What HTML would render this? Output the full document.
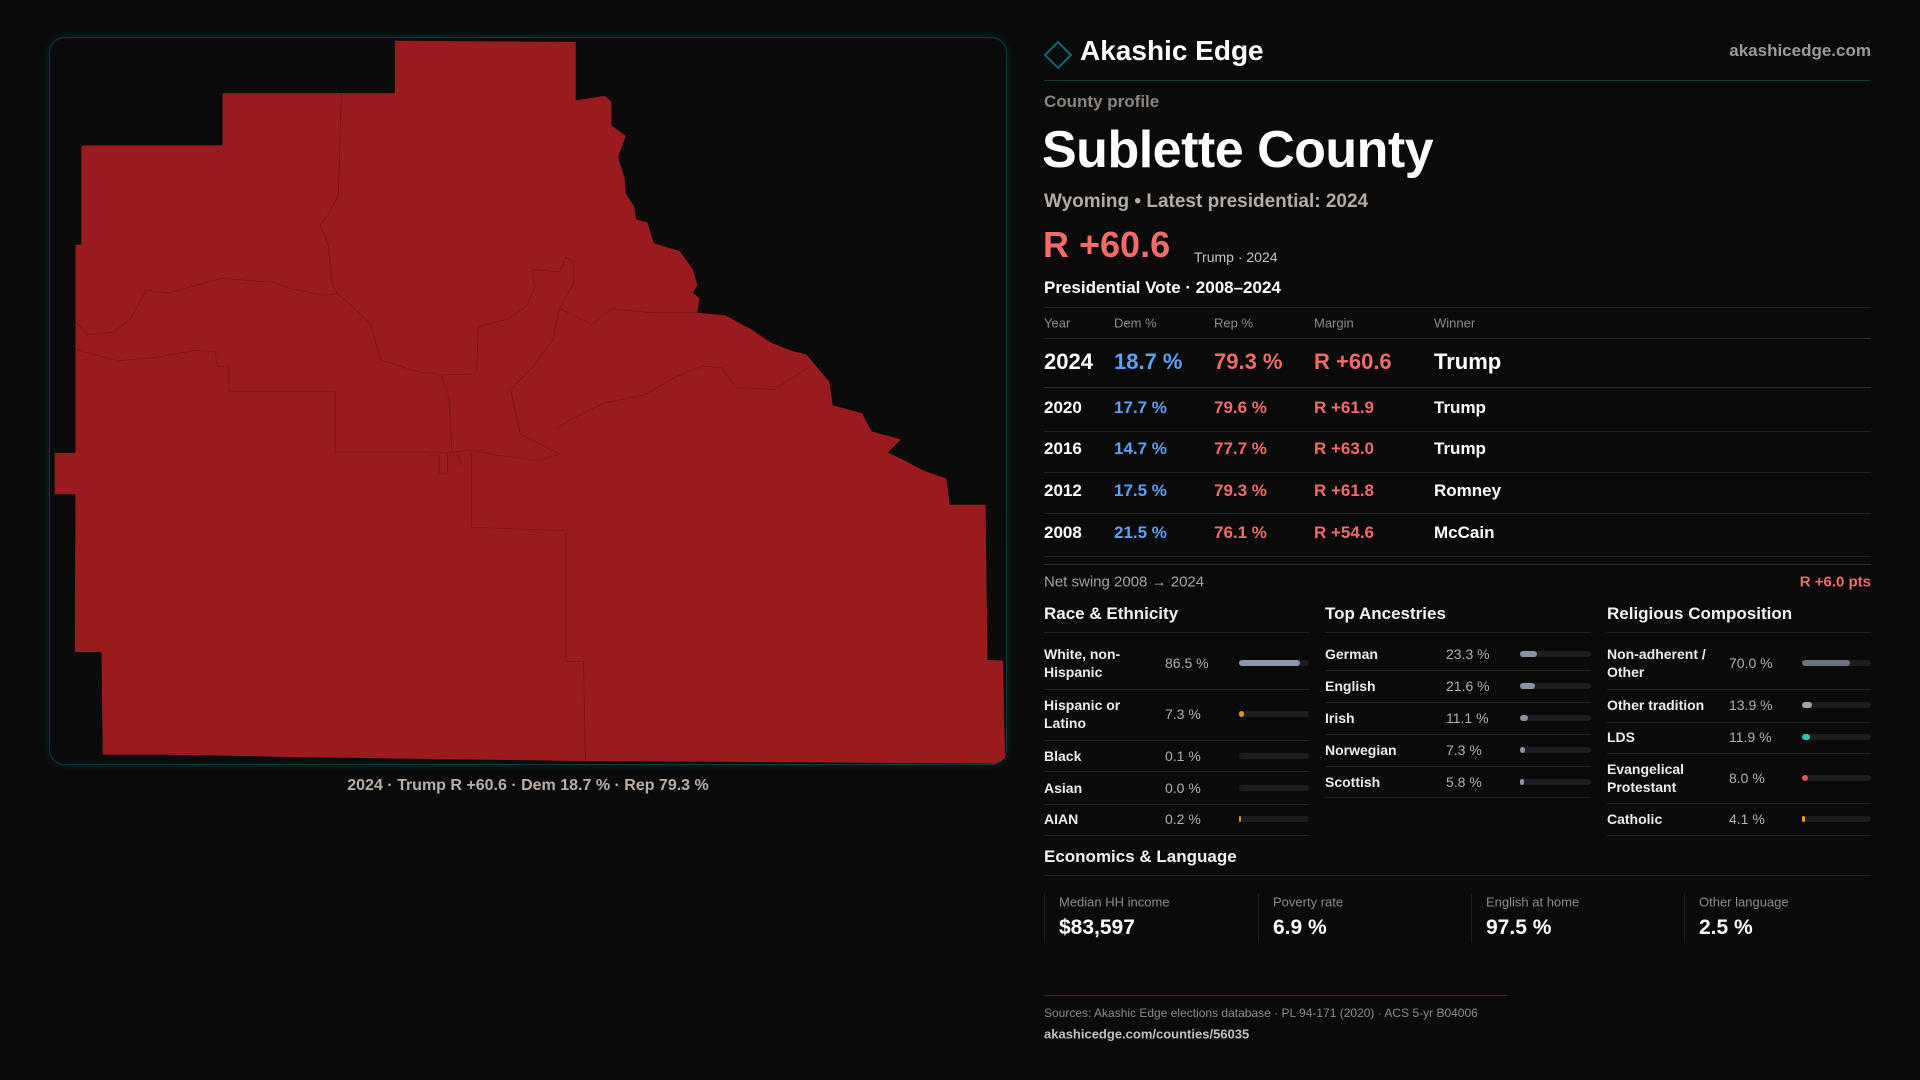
<!DOCTYPE html>
<html><head><meta charset="utf-8"><style>
*{margin:0;padding:0;box-sizing:border-box}
body{width:1920px;height:1080px;background:#0a0a0b;font-family:"Liberation Sans",sans-serif;color:#f2f2f2;position:relative;overflow:hidden}
.a{position:absolute;white-space:nowrap}
.vc{transform:translateY(-50%)}
.hl{position:absolute;height:1px;background:#222226}
.lbl{font-size:14px;font-weight:600;color:#ececec;line-height:18px}
.val{font-size:14px;color:#b5b0aa}
.track{position:absolute;height:6px;border-radius:3px;background:#1d1d20}
.fill{position:absolute;left:0;top:0;height:6px;border-radius:3px}
</style></head><body>

<div class="a" style="left:49px;top:37px;width:958px;height:728px;border:1px solid #0f3c44;border-radius:16px;background:#0b0b0c;box-shadow:0 0 10px rgba(20,110,120,0.25)"></div>
<svg class="a" style="left:0;top:0" width="1020" height="800" viewBox="0 0 1020 800">
<g transform="scale(0.6505,0.523)">
<path fill="#9a1b1e" d="M607,78 L885,80 L885,192 L930,183 L940,195 L940,240 L962,260 L950,300 L960,340 L962,370 L975,395 L978,420 L995,425 L1005,465 L1045,480 L1065,515 L1072,545 L1065,560 L1075,570 L1072,598 L1115,603 L1155,630 L1185,655 L1215,670 L1240,678 L1258,705 L1275,730 L1280,775 L1325,790 L1340,825 L1385,840 L1365,865 L1390,880 L1420,900 L1455,915 L1460,965 L1515,965 L1518,1262 L1542,1263 L1545,1450 L1530,1460 L900,1455 L470,1448 L265,1443 L158,1443 L156,1247 L115,1247 L116,945 L84,945 L84,866 L116,866 L116,468 L125,468 L125,278 L342,278 L342,178 L607,178 Z"/>
<g fill="none" stroke="#761417" stroke-width="1.4">
<path d="M525,178 L520,375 L505,410 L492,430 L505,470 L510,540 L518,560"/>
<path d="M116,615 L135,640 L175,635 L200,610 L225,555 L260,560 L340,532 L420,540 L450,553 L500,565 L518,560 L545,590 L570,620 L585,688 L640,710 L678,717 L690,760 L695,865"/>
<path d="M116,668 L180,690 L240,683 L300,670 L330,672 L335,700 L352,700 L352,748 L515,748 L515,865 L695,865 L725,860 L760,870 L830,880 L860,868"/>
<path d="M678,717 L733,715 L735,625 L780,610 L810,585 L822,550 L818,515 L860,520 L870,492 L882,500 L882,540 L860,590 L850,650 L820,700 L785,745 L800,830 L860,868"/>
<path d="M860,590 L910,620 L940,590 L1000,598 L1072,598"/>
<path d="M855,820 L880,800 L930,770 L990,755 L1040,720 L1080,700 L1110,703 L1130,740 L1190,745 L1245,700"/>
<path d="M725,860 L725,1008 L870,1015 L870,1265 L897,1265 L900,1455"/>
<path d="M660,870 L675,870 L675,905 L688,905 L688,870 L705,870 L708,890"/>
</g></g></svg>
<div class="a vc" style="left:528px;top:786px;transform:translate(-50%,-50%);font-size:16px;color:#b8b0a8;font-weight:600">2024 · Trump R +60.6 · Dem 18.7 % · Rep 79.3 %</div>

<svg class="a" style="left:1043px;top:40px" width="30" height="30"><polygon points="15,2 28,15 15,28 2,15" fill="none" stroke="#126570" stroke-width="2"/></svg>
<div class="a vc" style="left:1080px;top:51px;font-size:28px;font-weight:700;color:#fff">Akashic Edge</div>
<div class="a vc" style="right:49px;top:51px;font-size:17px;font-weight:600;color:#9a9a9a">akashicedge.com</div>
<div class="hl" style="left:1044px;top:80px;width:827px;background:#143a40"></div>
<div class="a vc" style="left:1044px;top:102px;font-size:17px;font-weight:600;color:#8a8580">County profile</div>
<div class="a vc" style="left:1042px;top:150px;font-size:52px;font-weight:700;color:#fff;letter-spacing:-0.5px">Sublette County</div>
<div class="a vc" style="left:1044px;top:202px;font-size:19px;font-weight:700;color:#b5aca4">Wyoming • Latest presidential: 2024</div>
<div class="a vc" style="left:1043px;top:245px;font-size:36px;font-weight:600;color:#f26b6b">R +60.6</div>
<div class="a vc" style="left:1194px;top:257px;font-size:14px;color:#c8c2bc">Trump · 2024</div>
<div class="a vc" style="left:1044px;top:288px;font-size:17px;font-weight:700;color:#fff">Presidential Vote · 2008–2024</div>
<div id="table"></div>
<div class="a vc" style="left:1044px;top:582px;font-size:15px;color:#a9a39d">Net swing 2008 → 2024</div>
<div class="a vc" style="right:49px;top:582px;font-size:15px;font-weight:600;color:#f26b6b">R +6.0 pts</div>

<div class="a vc" style="left:1044px;top:614px;font-size:17px;font-weight:700">Race &amp; Ethnicity</div>
<div class="a vc" style="left:1325px;top:614px;font-size:17px;font-weight:700">Top Ancestries</div>
<div class="a vc" style="left:1607px;top:614px;font-size:17px;font-weight:700">Religious Composition</div>
<div id="demo"></div>

<div class="a vc" style="left:1044px;top:857px;font-size:17px;font-weight:700">Economics &amp; Language</div>
<div class="hl" style="left:1044px;top:875px;width:827px"></div>
<div id="econ"></div>

<div class="hl" style="left:1044px;top:995px;width:463px;background:#143a40"></div>
<div class="a vc" style="left:1044px;top:1013px;font-size:12px;color:#8f8a85">Sources: Akashic Edge elections database · PL 94-171 (2020) · ACS 5-yr B04006</div>
<div class="a vc" style="left:1044px;top:1034px;font-size:13px;font-weight:600;color:#c5c0ba">akashicedge.com/counties/56035</div>

<script>
const years=["2024","2020","2016","2012","2008"];
const demPct=[18.7,17.7,14.7,17.5,21.5];
const repPct=[79.3,79.6,77.7,79.3,76.1];
const winners=["Trump","Trump","Trump","Romney","McCain"];
const raceLabels=["White, non-\nHispanic","Hispanic or\nLatino","Black","Asian","AIAN"];
const raceValues=[86.5,7.3,0.1,0.0,0.2];
const ancLabels=["German","English","Irish","Norwegian","Scottish"];
const ancValues=[23.3,21.6,11.1,7.3,5.8];
const relLabels=["Non-adherent /\nOther","Other tradition","LDS","Evangelical\nProtestant","Catholic"];
const relValues=[70.0,13.9,11.9,8.0,4.1];
const econLabels=["Median HH income","Poverty rate","English at home","Other language"];
const econValues=["$83,597","6.9 %","97.5 %","2.5 %"];

function mk(parent,cls,style,text){const d=document.createElement('div');if(cls)d.className=cls;d.style.cssText=style;if(text!==undefined)d.textContent=text;parent.appendChild(d);return d;}
const T=document.getElementById('table');
const cols=[1044,1114,1214,1314,1434];
const heads=["Year","Dem %","Rep %","Margin","Winner"];
let hl=mk(T,'hl','left:1044px;top:307px;width:827px');


heads.forEach((h,i)=>{const e=mk(T,'a vc',`left:${cols[i]}px;top:323px;font-size:13px;color:#8f8a85`,h);

});
const rowY=[362,408,449,491,533];
const lineY=[338,387,431,472,513,556];
lineY.forEach(y=>{const l=mk(T,'hl',`left:1044px;top:${y}px;width:827px;${y===338||y===387?'background:#2a2a2e':''}`);

});
years.forEach((yr,i)=>{const fs=i===0?22:17;const y=rowY[i];
const m=(repPct[i]-demPct[i]).toFixed(1);
const cells=[[yr,'#fff'],[demPct[i].toFixed(1)+' %','#5aa2f5'],[repPct[i].toFixed(1)+' %','#f26b6b'],['R +'+m,'#f26b6b'],[winners[i],'#fff']];
cells.forEach((c,j)=>{const e=mk(T,'a vc',`left:${cols[j]}px;top:${y}px;font-size:${fs}px;font-weight:${i===0?700:600};color:${c[1]}`,c[0]);

});});
mk(T,'hl','left:1044px;top:564px;width:827px;background:#2a2a2e');

const D=document.getElementById('demo');
function section(x,labels,values,centers,lines,colors,valX,barX,barW,name){
  lines.forEach(y=>{const l=mk(D,'hl',`left:${x}px;top:${y}px;width:${barX+barW-x}px`);
  
  });
  labels.forEach((lab,i)=>{const y=centers[i];
    const L=mk(D,'a vc lbl',`left:${x}px;top:${y}px;white-space:pre`,lab);
    
    
    const V=mk(D,'a vc val',`left:${valX}px;top:${y}px`,values[i].toFixed(1)+' %');
    
    
    const tr=mk(D,'track',`left:${barX}px;top:${y-3}px;width:${barW}px`);
    
    
    const w=values[i]>=0.2?Math.max(2,barW*values[i]/100):0;
    const f=mk(tr,'fill',`width:${w}px;background:${colors[i]}`);
    
    
  });
}
section(1044,raceLabels,raceValues,[663,714,756,788,819],[632,689,740,771,804,835],['#8a97ad','#e39412','#8a97ad','#8a97ad','#e39412'],1165,1239,70,'race');
section(1325,ancLabels,ancValues,[654,686,718,750,782],[632,670,702,734,766,797],['#8a93a6','#8a93a6','#8a93a6','#8a93a6','#8a93a6'],1446,1520,71,'ancestry');
section(1607,relLabels,relValues,[663,705,737,778,819],[632,689,722,753,803,835],['#6b7280','#9ca3af','#2ec4b6','#e05555','#e0a020'],1729,1802,69,'religion');

const E=document.getElementById('econ');
const ex=[1044,1258,1471,1684];
econLabels.forEach((lab,i)=>{
  const c=mk(E,'a',`left:${ex[i]}px;top:894px;width:1px;height:49px;background:#1f1f22`);
  
  
  const l=mk(E,'a vc',`left:${ex[i]+15}px;top:902px;font-size:13px;color:#8f8a85`,lab);
  
  
  const v=mk(E,'a vc',`left:${ex[i]+15}px;top:928px;font-size:21px;font-weight:700;color:#fff`,econValues[i]);
  
  
});
</script>
</body></html>
